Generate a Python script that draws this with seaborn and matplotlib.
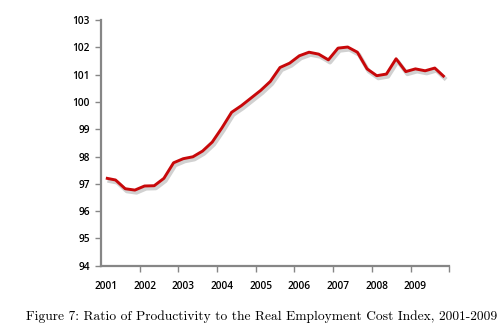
import matplotlib
matplotlib.use("Agg")
import matplotlib.pyplot as plt
import matplotlib.patheffects as pe
import numpy as np
import pandas as pd
import seaborn as sns

# Quarterly ratio of productivity to the real employment cost index
years = [2001, 2002, 2003, 2004, 2005, 2006, 2007, 2008, 2009]
quarters = ["Q1", "Q2", "Q3", "Q4"]
ratio = [
    97.21, 97.14, 96.82, 96.77,   # 2001
    96.92, 96.93, 97.20, 97.77,   # 2002
    97.92, 97.99, 98.20, 98.53,   # 2003
    99.05, 99.62, 99.86, 100.14,  # 2004
    100.42, 100.75, 101.26, 101.42,  # 2005
    101.69, 101.82, 101.75, 101.54,  # 2006
    101.97, 102.01, 101.82, 101.21,  # 2007
    100.96, 101.02, 101.58, 101.11,  # 2008
    101.21, 101.14, 101.24, 100.91,  # 2009
]
y_ticks = [94, 95, 96, 97, 98, 99, 100, 101, 102, 103]

periods = [f"{y} {q}" for y in years for q in quarters]
df = pd.DataFrame({"period": periods, "ratio": ratio})
df["idx"] = np.arange(len(df))

sns.set_theme(style="white")
plt.rcParams["font.family"] = ["Open Sans", "DejaVu Sans"]

fig = plt.figure(figsize=(5.01, 3.30), dpi=100)
ax = fig.add_axes([0.2016, 0.1948, 0.6952, 0.7446])

sns.lineplot(data=df, x="idx", y="ratio", ax=ax, color="#C8080A",
             linewidth=2.1, solid_joinstyle="round", solid_capstyle="butt")
ax.lines[0].set_path_effects([
    pe.SimpleLineShadow(offset=(1.2, -1.8), shadow_color="#9a9a9a", alpha=0.45, linewidth=3.0),
    pe.Normal(),
])

ax.set_xlim(-0.5, len(df) - 0.5)
ax.set_ylim(94, 103)
ax.set_xlabel("")
ax.set_ylabel("")

# Year labels sit on each year's first quarter; tick marks separate years
ax.set_xticks(np.arange(0, len(df), 4))
ax.set_xticklabels([str(y) for y in years])
ax.set_xticks(np.arange(3.5, len(df), 4), minor=True)
ax.tick_params(axis="x", which="major", length=0, pad=11, labelsize=7.3,
               labelcolor="black")
ax.tick_params(axis="x", which="minor", length=4, width=1.0, color="#868686",
               direction="out", bottom=True)

ax.set_yticks(y_ticks)
ax.set_yticklabels([str(v) for v in y_ticks])
ax.tick_params(axis="y", which="major", length=4, width=1.0, color="#868686",
               direction="out", left=True, pad=4, labelsize=7.3, labelcolor="black")
for lbl in ax.get_xticklabels() + ax.get_yticklabels():
    lbl.set_fontweight("semibold")

for side in ["top", "right"]:
    ax.spines[side].set_visible(False)
for side in ["left", "bottom"]:
    ax.spines[side].set_color("#868686")
    ax.spines[side].set_linewidth(1.6)

fig.text(0.523, 0.040,
         "Figure 7: Ratio of Productivity to the Real Employment Cost Index, 2001-2009",
         ha="center", va="center", fontsize=9.7, family="cmr10", color="black")

fig.savefig("out.png", dpi=100)
